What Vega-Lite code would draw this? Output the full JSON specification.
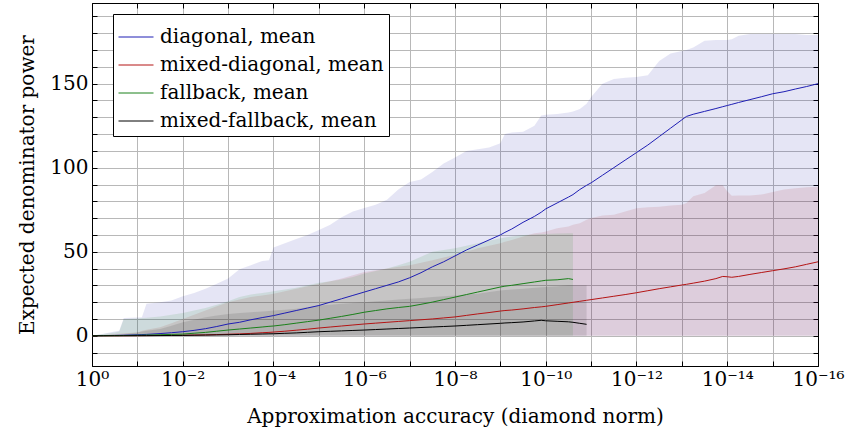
{
 "$schema": "https://vega.github.io/schema/vega-lite/v6.json",
 "width": 726,
 "height": 363,
 "autosize": "none",
 "padding": {"left": 92, "top": 3, "right": 28, "bottom": 72},
 "config": {
  "font": "DejaVu Serif",
  "view": {"stroke": "black", "strokeWidth": 1},
  "axis": {"labelFont": "DejaVu Serif", "titleFont": "DejaVu Serif", "labelColor": "black", "titleColor": "black", "titleFontWeight": "normal", "domainColor": "black", "tickColor": "black", "gridColor": "#b8b8b8", "gridOpacity": 1, "labelFontSize": 20, "titleFontSize": 20},
  "legend": {"labelFont": "DejaVu Serif"}
 },
 "data": {"values": [
  {"x":1,"dm":0,"dx":0,"mm":0,"mx":0,"fm":0,"fx":0,"km":0,"kx":0},
  {"x":0.562341,"dm":0.1,"dx":1.2,"mm":0,"mx":0.5,"fm":0.05,"fx":1,"km":0,"kx":0.3},
  {"x":0.316228,"dm":0.2,"dx":2.5,"mm":0.01,"mx":1,"fm":0.1,"fx":2,"km":0.01,"kx":0.5},
  {"x":0.251189,"dm":0.25,"dx":3,"mm":0.02,"mx":1.2,"fm":0.12,"fx":2.5,"km":0.01,"kx":0.8},
  {"x":0.199526,"dm":0.3,"dx":10.5,"mm":0.03,"mx":1.5,"fm":0.15,"fx":10,"km":0.02,"kx":1},
  {"x":0.1,"dm":0.6,"dx":10.8,"mm":0.05,"mx":2,"fm":0.3,"fx":10.3,"km":0.05,"kx":2},
  {"x":0.0794328,"dm":0.7,"dx":11,"mm":0.07,"mx":3,"fm":0.35,"fx":10.5,"km":0.06,"kx":2.5},
  {"x":0.0630957,"dm":0.8,"dx":19,"mm":0.09,"mx":3.5,"fm":0.4,"fx":10.7,"km":0.07,"kx":3},
  {"x":0.0316228,"dm":1.3,"dx":20,"mm":0.15,"mx":5,"fm":0.6,"fx":11.5,"km":0.12,"kx":4},
  {"x":0.0177828,"dm":1.8,"dx":21,"mm":0.22,"mx":7.5,"fm":0.8,"fx":12.5,"km":0.16,"kx":6},
  {"x":0.01,"dm":2.4,"dx":23.5,"mm":0.3,"mx":10,"fm":1,"fx":13.5,"km":0.2,"kx":8},
  {"x":5.62341e-3,"dm":3.2,"dx":25.5,"mm":0.4,"mx":12.5,"fm":1.5,"fx":15,"km":0.3,"kx":9.5},
  {"x":3.16228e-3,"dm":4.2,"dx":28,"mm":0.5,"mx":15,"fm":2,"fx":16.5,"km":0.4,"kx":11},
  {"x":1.77828e-3,"dm":5.5,"dx":31,"mm":0.7,"mx":17.5,"fm":2.7,"fx":18.5,"km":0.5,"kx":12},
  {"x":1e-3,"dm":7,"dx":34,"mm":0.9,"mx":20,"fm":3.4,"fx":20.5,"km":0.6,"kx":13},
  {"x":5.62341e-4,"dm":8,"dx":39.5,"mm":1.1,"mx":21.5,"fm":4,"fx":23,"km":0.75,"kx":13.5},
  {"x":3.16228e-4,"dm":9.5,"dx":42,"mm":1.4,"mx":23,"fm":4.6,"fx":24.5,"km":0.9,"kx":14},
  {"x":1.77828e-4,"dm":10.8,"dx":44.5,"mm":1.8,"mx":24,"fm":5.2,"fx":25.5,"km":1.05,"kx":14.5},
  {"x":1.25893e-4,"dm":11.5,"dx":45,"mm":2.0,"mx":24.5,"fm":5.6,"fx":26,"km":1.15,"kx":14.8},
  {"x":1e-4,"dm":12,"dx":52.5,"mm":2.2,"mx":25,"fm":5.8,"fx":26.5,"km":1.2,"kx":15},
  {"x":5.62341e-5,"dm":13.5,"dx":55,"mm":2.7,"mx":26.5,"fm":6.6,"fx":27.5,"km":1.45,"kx":15.5},
  {"x":3.16228e-5,"dm":15,"dx":57.5,"mm":3.3,"mx":28,"fm":7.5,"fx":28.5,"km":1.7,"kx":16},
  {"x":1.77828e-5,"dm":16.5,"dx":60,"mm":3.9,"mx":29.5,"fm":8.4,"fx":30,"km":2.05,"kx":17},
  {"x":1e-5,"dm":18,"dx":63,"mm":4.6,"mx":31,"fm":9.3,"fx":31.5,"km":2.4,"kx":18},
  {"x":5.62341e-6,"dm":20,"dx":66,"mm":5.2,"mx":32.5,"fm":10.4,"fx":32.5,"km":2.65,"kx":18.5},
  {"x":3.16228e-6,"dm":22,"dx":70.5,"mm":5.8,"mx":34,"fm":11.5,"fx":33.5,"km":2.9,"kx":19},
  {"x":1.77828e-6,"dm":24,"dx":74,"mm":6.4,"mx":36,"fm":12.7,"fx":35,"km":3.15,"kx":19.5},
  {"x":1e-6,"dm":26,"dx":76,"mm":7,"mx":38,"fm":14,"fx":37,"km":3.4,"kx":20},
  {"x":5.62341e-7,"dm":28,"dx":78,"mm":7.5,"mx":39,"fm":15,"fx":38.5,"km":3.7,"kx":20.5},
  {"x":3.16228e-7,"dm":30,"dx":81,"mm":8,"mx":40,"fm":16,"fx":40,"km":4.0,"kx":21},
  {"x":1.77828e-7,"dm":32,"dx":87,"mm":8.5,"mx":41,"fm":16.8,"fx":42,"km":4.3,"kx":21.5},
  {"x":1e-7,"dm":34.5,"dx":91.5,"mm":9,"mx":42,"fm":17.5,"fx":44,"km":4.6,"kx":22},
  {"x":5.62341e-8,"dm":37.5,"dx":93,"mm":9.5,"mx":43.5,"fm":18.7,"fx":47,"km":4.9,"kx":22.5},
  {"x":3.16228e-8,"dm":41,"dx":97.5,"mm":10,"mx":45,"fm":20,"fx":50,"km":5.2,"kx":23},
  {"x":1.77828e-8,"dm":44,"dx":102.5,"mm":10.6,"mx":46.5,"fm":21.5,"fx":51,"km":5.5,"kx":23.5},
  {"x":1e-8,"dm":47.5,"dx":106,"mm":11.2,"mx":48,"fm":23,"fx":52,"km":5.8,"kx":24},
  {"x":5.62341e-9,"dm":51,"dx":110,"mm":12.1,"mx":50,"fm":24.5,"fx":53.5,"km":6.2,"kx":24.5},
  {"x":3.16228e-9,"dm":54,"dx":111,"mm":13,"mx":52,"fm":26,"fx":55,"km":6.6,"kx":25},
  {"x":1.77828e-9,"dm":57,"dx":112,"mm":13.8,"mx":53.5,"fm":27.5,"fx":56.5,"km":7.0,"kx":26},
  {"x":1e-9,"dm":60,"dx":114.5,"mm":14.7,"mx":55,"fm":29,"fx":58,"km":7.4,"kx":27},
  {"x":7.94328e-10,"dm":61.5,"dx":120,"mm":15,"mx":56,"fm":29.5,"fx":58.5,"km":7.6,"kx":27.2},
  {"x":5.62341e-10,"dm":63.5,"dx":121,"mm":15.3,"mx":57,"fm":30,"fx":59,"km":7.8,"kx":27.5},
  {"x":3.16228e-10,"dm":67.5,"dx":121.4,"mm":16,"mx":59,"fm":31,"fx":60,"km":8.2,"kx":28},
  {"x":1.77828e-10,"dm":71,"dx":125,"mm":16.8,"mx":61,"fm":32,"fx":60.3,"km":8.8,"kx":28.5},
  {"x":1.25893e-10,"dm":73.5,"dx":131,"mm":17.2,"mx":61.5,"fm":32.6,"fx":60.5,"km":9.2,"kx":28.8},
  {"x":1e-10,"dm":75.5,"dx":131.5,"mm":17.5,"mx":62,"fm":33,"fx":60.5,"km":8.9,"kx":29},
  {"x":5.62341e-11,"dm":79,"dx":132,"mm":18.5,"mx":64,"fm":33.3,"fx":60.8,"km":8.6,"kx":29.5},
  {"x":3.16228e-11,"dm":82.5,"dx":132.8,"mm":19.5,"mx":65,"fm":34,"fx":61,"km":8.3,"kx":30},
  {"x":2.51189e-11,"dm":84,"dx":133.5,"mm":19.9,"mx":66,"fm":33.5,"fx":61,"km":8.0,"kx":30},
  {"x":1.77828e-11,"dm":87,"dx":135,"mm":20.5,"mx":67,"km":7.4,"kx":30},
  {"x":1.25893e-11,"dm":89.5,"dx":138,"mm":21.1,"mx":69,"km":6.8,"kx":30},
  {"x":1e-11,"dm":91,"dx":142,"mm":21.5,"mx":70},
  {"x":5.62341e-12,"dm":95.5,"dx":150,"mm":22.5,"mx":71.5},
  {"x":3.16228e-12,"dm":100,"dx":152.8,"mm":23.5,"mx":72},
  {"x":1.77828e-12,"dm":104.5,"dx":153.5,"mm":24.5,"mx":74},
  {"x":1e-12,"dm":109,"dx":154,"mm":25.6,"mx":75.8},
  {"x":5.62341e-13,"dm":113.5,"dx":155,"mm":26.8,"mx":76.5},
  {"x":3.16228e-13,"dm":118.5,"dx":163.5,"mm":28,"mx":76.8},
  {"x":1.77828e-13,"dm":123.5,"dx":168,"mm":29.1,"mx":77.5},
  {"x":1e-13,"dm":128.5,"dx":169.5,"mm":30.2,"mx":78},
  {"x":7.94328e-14,"dm":130.5,"dx":170,"mm":30.6,"mx":79},
  {"x":5.62341e-14,"dm":131.8,"dx":171.5,"mm":31.3,"mx":83},
  {"x":3.16228e-14,"dm":133.5,"dx":175.5,"mm":32.5,"mx":85},
  {"x":1.77828e-14,"dm":135.2,"dx":176,"mm":34,"mx":89.5},
  {"x":1.25893e-14,"dm":136.3,"dx":176,"mm":35.3,"mx":89.5},
  {"x":1e-14,"dm":137,"dx":176,"mm":35.1,"mx":86},
  {"x":7.94328e-15,"dm":137.7,"dx":176.5,"mm":34.8,"mx":83.3},
  {"x":5.62341e-15,"dm":138.8,"dx":178.5,"mm":35.3,"mx":83.4},
  {"x":3.16228e-15,"dm":140.5,"dx":179.6,"mm":36.5,"mx":83.5},
  {"x":1.77828e-15,"dm":142.2,"dx":179.6,"mm":37.6,"mx":84},
  {"x":1e-15,"dm":144,"dx":179.6,"mm":38.7,"mx":85.5},
  {"x":5.62341e-16,"dm":145.2,"dx":179.6,"mm":39.8,"mx":87},
  {"x":3.16228e-16,"dm":146.8,"dx":179.5,"mm":41,"mx":87.7},
  {"x":1.77828e-16,"dm":148.3,"dx":179,"mm":42.5,"mx":88.3},
  {"x":1e-16,"dm":150,"dx":179,"mm":44,"mx":88.7}
 ]},
 "layer": [
  {
   "mark": {"type": "area", "fill": "#0000a0", "fillOpacity": 0.1},
   "encoding": {
    "x": {"field": "x", "type": "quantitative", "scale": {"type": "log", "domain": [1e-16, 1], "reverse": true, "nice": false},
     "axis": {"orient": "bottom", "values": [1,0.1,0.01,1e-3,1e-4,1e-5,1e-6,1e-7,1e-8,1e-9,1e-10,1e-11,1e-12,1e-13,1e-14,1e-15,1e-16],
      "labelExpr": "['10⁰','','10⁻²','','10⁻⁴','','10⁻⁶','','10⁻⁸','','10⁻¹⁰','','10⁻¹²','','10⁻¹⁴','','10⁻¹⁶'][-round(log(datum.value)/LN10)]",
      "grid": true, "tickSize": -5, "labelPadding": 8, "labelFlush": false, "labelOverlap": false,
      "title": "Approximation accuracy (diamond norm)", "titlePadding": 17}},
    "y": {"field": "dx", "type": "quantitative", "scale": {"domain": [-18, 198], "nice": false, "zero": false},
     "axis": {"orient": "left", "values": [-10,0,10,20,30,40,50,60,70,80,90,100,110,120,130,140,150,160,170,180,190],
      "labelExpr": "datum.value % 50 == 0 ? datum.label : ''",
      "grid": true, "tickSize": -5, "labelPadding": 9, "labelOverlap": false,
      "title": "Expected denominator power", "titlePadding": 12}},
    "y2": {"datum": 0}
   }
  },
  {
   "mark": {"type": "area", "fill": "#a00000", "fillOpacity": 0.1},
   "encoding": {
    "x": {"field": "x", "type": "quantitative", "axis": null},
    "y": {"field": "mx", "type": "quantitative", "axis": null},
    "y2": {"datum": 0}
   }
  },
  {
   "transform": [{"filter": "isValid(datum.fx)"}],
   "mark": {"type": "area", "fill": "#008000", "fillOpacity": 0.1},
   "encoding": {
    "x": {"field": "x", "type": "quantitative", "axis": null},
    "y": {"field": "fx", "type": "quantitative", "axis": null},
    "y2": {"datum": 0}
   }
  },
  {
   "transform": [{"filter": "isValid(datum.kx)"}],
   "mark": {"type": "area", "fill": "#000000", "fillOpacity": 0.1},
   "encoding": {
    "x": {"field": "x", "type": "quantitative", "axis": null},
    "y": {"field": "kx", "type": "quantitative", "axis": null},
    "y2": {"datum": 0}
   }
  },
  {
   "mark": {"type": "line", "strokeWidth": 1},
   "encoding": {
    "x": {"field": "x", "type": "quantitative", "axis": null},
    "y": {"field": "dm", "type": "quantitative", "axis": null},
    "color": {"datum": "diagonal, mean", "type": "nominal",
     "scale": {"domain": ["diagonal, mean", "mixed-diagonal, mean", "fallback, mean", "mixed-fallback, mean"], "range": ["#1f1fb4", "#b41414", "#1a801a", "#000000"]},
     "legend": {"orient": "none", "legendX": 21, "legendY": 11, "title": null, "symbolType": "stroke", "symbolSize": 1225, "symbolStrokeWidth": 1,
      "labelFontSize": 20, "labelColor": "black", "strokeColor": "black", "fillColor": "white", "padding": 5, "rowPadding": 0, "labelOffset": 6, "cornerRadius": 0, "labelLimit": 400}}
   }
  },
  {
   "mark": {"type": "line", "strokeWidth": 1},
   "encoding": {
    "x": {"field": "x", "type": "quantitative", "axis": null},
    "y": {"field": "mm", "type": "quantitative", "axis": null},
    "color": {"datum": "mixed-diagonal, mean", "type": "nominal"}
   }
  },
  {
   "transform": [{"filter": "isValid(datum.fm)"}],
   "mark": {"type": "line", "strokeWidth": 1},
   "encoding": {
    "x": {"field": "x", "type": "quantitative", "axis": null},
    "y": {"field": "fm", "type": "quantitative", "axis": null},
    "color": {"datum": "fallback, mean", "type": "nominal"}
   }
  },
  {
   "transform": [{"filter": "isValid(datum.km)"}],
   "mark": {"type": "line", "strokeWidth": 1},
   "encoding": {
    "x": {"field": "x", "type": "quantitative", "axis": null},
    "y": {"field": "km", "type": "quantitative", "axis": null},
    "color": {"datum": "mixed-fallback, mean", "type": "nominal"}
   }
  },
  {
   "mark": {"type": "line", "opacity": 0},
   "encoding": {
    "x": {"field": "x", "type": "quantitative",
     "axis": {"orient": "top", "values": [1,0.1,0.01,1e-3,1e-4,1e-5,1e-6,1e-7,1e-8,1e-9,1e-10,1e-11,1e-12,1e-13,1e-14,1e-15,1e-16], "labels": false, "grid": false, "tickSize": -5, "title": null}},
    "y": {"field": "dm", "type": "quantitative",
     "axis": {"orient": "right", "values": [-10,0,10,20,30,40,50,60,70,80,90,100,110,120,130,140,150,160,170,180,190], "labels": false, "grid": false, "tickSize": -5, "title": null}}
   }
  }
 ],
 "resolve": {"axis": {"x": "independent", "y": "independent"}}
}
